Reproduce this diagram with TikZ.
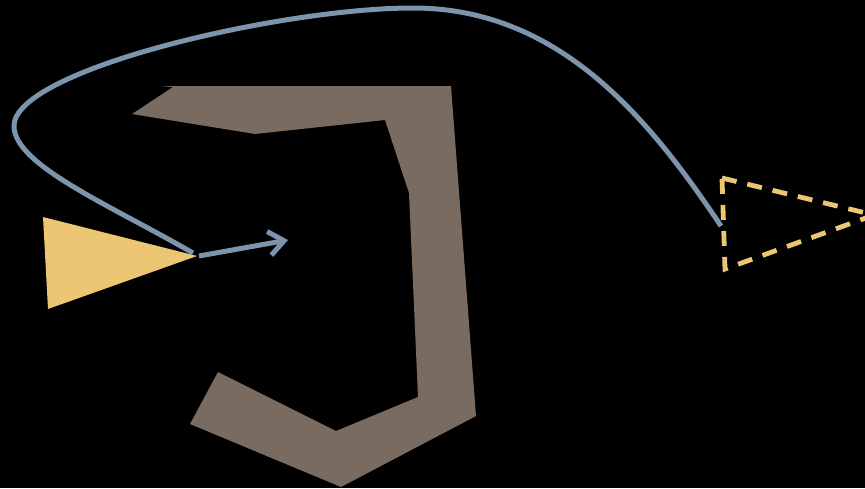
\documentclass[tikz,border=0pt]{standalone}
\usetikzlibrary{arrows.meta}
\definecolor{brownshape}{RGB}{122,107,97}
\definecolor{sand}{RGB}{237,198,116}
\definecolor{steel}{RGB}{124,149,172}
\tikzset{
  curveline/.style={draw=steel, line width=5pt},
  dashtri/.style={draw=sand, line width=4.8pt, dash pattern=on 15pt off 11pt, line join=miter},
}
\begin{document}
\begin{tikzpicture}[x=1pt,y=-1pt]
\fill[black] (0,0) rectangle (865,488);
\useasboundingbox (0,0) rectangle (865,488);
\begin{scope}
\clip (0,0) rectangle (865,488);
% brown hook shape
\fill[brownshape] (160,86) -- (451,86) -- (476,416) -- (341,487) -- (190,424) -- (218,372)
  -- (336,431) -- (418,397) -- (409,193) -- (385,120) -- (255,134) -- (132,114) -- (173,87) -- cycle;
% yellow triangle
\coordinate (tip) at (197,256);
\fill[sand] (43,217) -- (tip) -- (48,309) -- cycle;
% dashed triangle
\coordinate (dA) at (722,178);
\coordinate (dB) at (874,215);
\coordinate (dC) at (725,269);
\draw[dashtri] (dA) -- (dB) -- (dC) -- cycle;
% arrow
\coordinate (arrowstart) at (199,256);
\coordinate (arrowend) at (288,240);
\draw[curveline, -{Straight Barb[length=15pt,width=24pt,line width=5pt]}] (arrowstart) -- (arrowend);
% long curve
\coordinate (cstart) at (193,253);
\coordinate (cleft) at (14,126);
\coordinate (ctop) at (413,8);
\coordinate (cend) at (721,226);
\draw[curveline] (cstart) .. controls (110,205) and (14,165) .. (cleft)
  .. controls (14,70) and (280,8) .. (ctop)
  .. controls (560,8) and (650,120) .. (cend);
\end{scope}
\end{tikzpicture}
\end{document}
